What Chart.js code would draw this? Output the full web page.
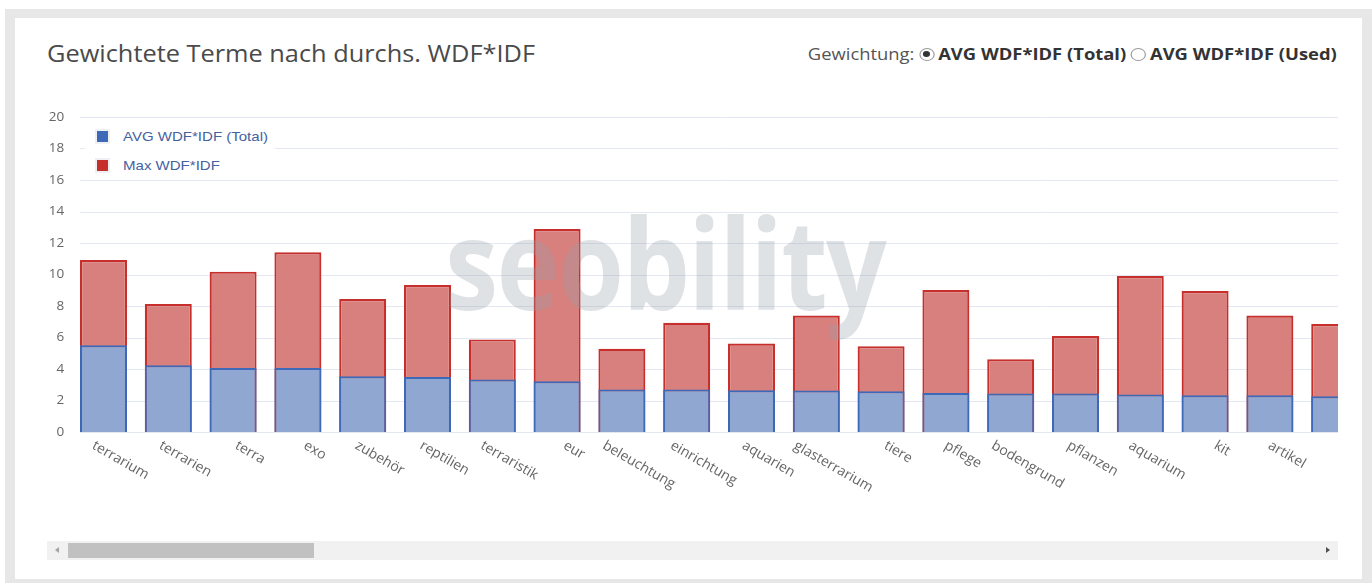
<!DOCTYPE html>
<html>
<head>
<meta charset="utf-8">
<script src="https://cdn.jsdelivr.net/npm/chart.js@4.4.1/dist/chart.umd.min.js"></script>
<style>
  html, body { margin:0; padding:0; background:#fff; width:1372px; height:583px; overflow:hidden; }
  #outer { position:absolute; left:5px; top:9px; width:1367px; height:574px; background:#e7e7e7; }
  #card { position:absolute; left:15px; top:18px; width:1347px; height:561px; background:#fff; }
  #title { position:absolute; left:47px; top:37px; font-family:"Open Sans", sans-serif; font-size:23px; color:#4a4a4a; white-space:nowrap; transform-origin:0 0; }
  #weights { position:absolute; right:35px; top:43px; font-family:"Open Sans", sans-serif; font-size:15.5px; color:#555; white-space:nowrap; display:flex; align-items:center; transform-origin:100% 50%; }
  #weights b { color:#333; font-weight:700; }
  .radio { display:inline-block; width:13px; height:13px; border:1px solid #9a9a9a; border-radius:50%; box-sizing:border-box; position:relative; margin:0 3px 0 4px; background:#fff; }
  .radio.on::after { content:""; position:absolute; left:2.5px; top:2.5px; width:6px; height:6px; border-radius:50%; background:#333; }
  #scroll { position:absolute; left:40px; top:95px; width:1298px; height:445px; overflow:hidden; }
  #inner { position:relative; width:1330px; height:440px; }
  #legend { position:absolute; left:85px; top:123px; width:190px; height:53px; background:#fff; font-family:"Liberation Sans", Arial, sans-serif; font-size:13px; color:#44629f; }
  .li { position:absolute; left:12px; display:flex; align-items:center; white-space:nowrap; }
  .li span.t { display:inline-block; transform-origin:0 50%; }
  .sw { display:inline-block; width:11px; height:11px; margin-right:15px; box-shadow:0 0 0 2px #eef0f4; }
  #wm { position:absolute; left:445px; top:198px; font-family:"Open Sans", sans-serif; font-weight:700; font-size:126px; line-height:1; color:rgba(150,160,170,0.3); white-space:nowrap; transform-origin:0 0; pointer-events:none; letter-spacing:-2px; }
  #sbar { position:absolute; left:47px; top:541px; width:1291px; height:19px; background:#f1f1f1; }
  #thumb { position:absolute; left:21px; top:2px; width:246px; height:15px; background:#c1c1c1; }
  .arr { position:absolute; top:6px; width:0; height:0; border-top:3.5px solid transparent; border-bottom:3.5px solid transparent; }
  #al { left:8px; border-right:4px solid #a3a3a3; }
  #ar { right:8px; border-left:4px solid #505050; }
</style>
</head>
<body>
<div id="outer"></div>
<div id="card"></div>
<div id="title">Gewichtete Terme nach durchs. WDF*IDF</div>
<div id="weights">Gewichtung:<span class="radio on"></span><b>AVG WDF*IDF (Total)</b><span class="radio"></span><b>AVG WDF*IDF (Used)</b></div>
<div id="scroll"><div id="inner"><canvas id="c"></canvas></div></div>
<div id="legend"></div>
<div id="wm">seobility</div>
<div id="sbar"><div class="arr" id="al"></div><div id="thumb"></div><div class="arr" id="ar"></div></div>
<script>
const categories = ["terrarium","terrarien","terra","exo","zubehör","reptilien","terraristik","eur","beleuchtung","einrichtung","aquarien","glasterrarium","tiere","pflege","bodengrund","pflanzen","aquarium","kit","artikel",""];
const avgTotal = [5.51,4.24,4.07,4.07,3.54,3.50,3.33,3.22,2.70,2.70,2.65,2.63,2.59,2.48,2.44,2.44,2.38,2.33,2.33,2.27];
const maxValues = [10.92,8.12,10.18,11.41,8.44,9.33,5.88,12.89,5.28,6.93,5.62,7.40,5.45,9.01,4.62,6.09,9.90,8.95,7.40,6.85];
const seriesNames = ["AVG WDF*IDF (Total)","Max WDF*IDF"];
const yTicks = [0,2,4,6,8,10,12,14,16,18,20];

const gridPlugin = {
  id:'gridlines',
  beforeDatasetsDraw(chart){
    const {ctx, chartArea, scales:{y}} = chart;
    ctx.save();
    ctx.strokeStyle = '#e2e7f1';
    ctx.lineWidth = 1;
    yTicks.forEach(v => {
      const py = Math.round(y.getPixelForValue(v)) + 0.5;
      ctx.beginPath();
      ctx.moveTo(chartArea.left + 9, py);
      ctx.lineTo(chartArea.right, py);
      ctx.stroke();
    });
    ctx.restore();
  }
};
const xLabelPlugin = {
  id:'xlabels',
  afterDraw(chart){
    const {ctx, chartArea, scales:{x}} = chart;
    ctx.save();
    ctx.font = '14px "Open Sans", sans-serif';
    ctx.fillStyle = '#666';
    ctx.textAlign = 'center';
    ctx.textBaseline = 'middle';
    const a = 30 * Math.PI / 180, h = 13;
    const top = chartArea.bottom + 7;
    categories.forEach((lab, i) => {
      if (!lab) return;
      const c = x.getPixelForValue(i);
      const w = ctx.measureText(lab).width;
      const H = w * Math.sin(a) + h * Math.cos(a);
      ctx.save();
      ctx.translate(c + 17, top + H / 2);
      ctx.rotate(a);
      ctx.fillText(lab, 0, 0);
      ctx.restore();
    });
    ctx.restore();
  }
};

const chart = new Chart(document.getElementById('c'), {
  type:'bar',
  data:{
    labels: categories,
    datasets:[
      { label: seriesNames[0], data: avgTotal, backgroundColor:'#8fa7d1', borderColor:'#3e68b8', borderWidth:2, barPercentage:0.725, categoryPercentage:1.0 },
      { label: seriesNames[1], data: maxValues, backgroundColor:'#d8807d', borderColor:'#c62f2c', borderWidth:2.2, barPercentage:0.725, categoryPercentage:1.0 }
    ]
  },
  options:{
    responsive:true, maintainAspectRatio:false, animation:false,
    layout:{ padding:{ top:22, right:2.9, bottom:103, left:0 } },
    plugins:{ legend:{display:false}, tooltip:{enabled:false} },
    scales:{
      x:{ stacked:true, display:false, offset:true },
      y:{ stacked:false, min:0, max:20,
          afterBuildTicks(s){ s.ticks = yTicks.map(v => ({value:v})); },
          afterFit(s){ s.width = 31.1; },
          grid:{ display:false, drawTicks:false }, border:{display:false},
          ticks:{ padding:7, color:'#666', font:{ family:'"Open Sans", sans-serif', size:13.5 } } }
    }
  },
  plugins:[gridPlugin, xLabelPlugin]
});

// HTML legend built from datasets
const leg = document.getElementById('legend');
chart.data.datasets.forEach((ds, i) => {
  const d = document.createElement('div');
  d.className = 'li';
  d.style.top = (6 + i * 29) + 'px';
  d.innerHTML = '<span class="sw" style="background:' + ds.borderColor + '"></span><span class="t">' + ds.label + '</span>';
  leg.appendChild(d);
});
const t0 = leg.querySelector('.t');
const legScale = 145 / t0.getBoundingClientRect().width;
leg.querySelectorAll('.t').forEach(t => t.style.transform = 'scaleX(' + legScale + ')');

function fitWidth(el, target){
  const w = el.getBoundingClientRect().width;
  el.style.transform = 'scaleX(' + (target / w) + ')';
}
fitWidth(document.getElementById('wm'), 440);
fitWidth(document.getElementById('title'), 488);
fitWidth(document.getElementById('weights'), 529);
</script>
</body>
</html>
